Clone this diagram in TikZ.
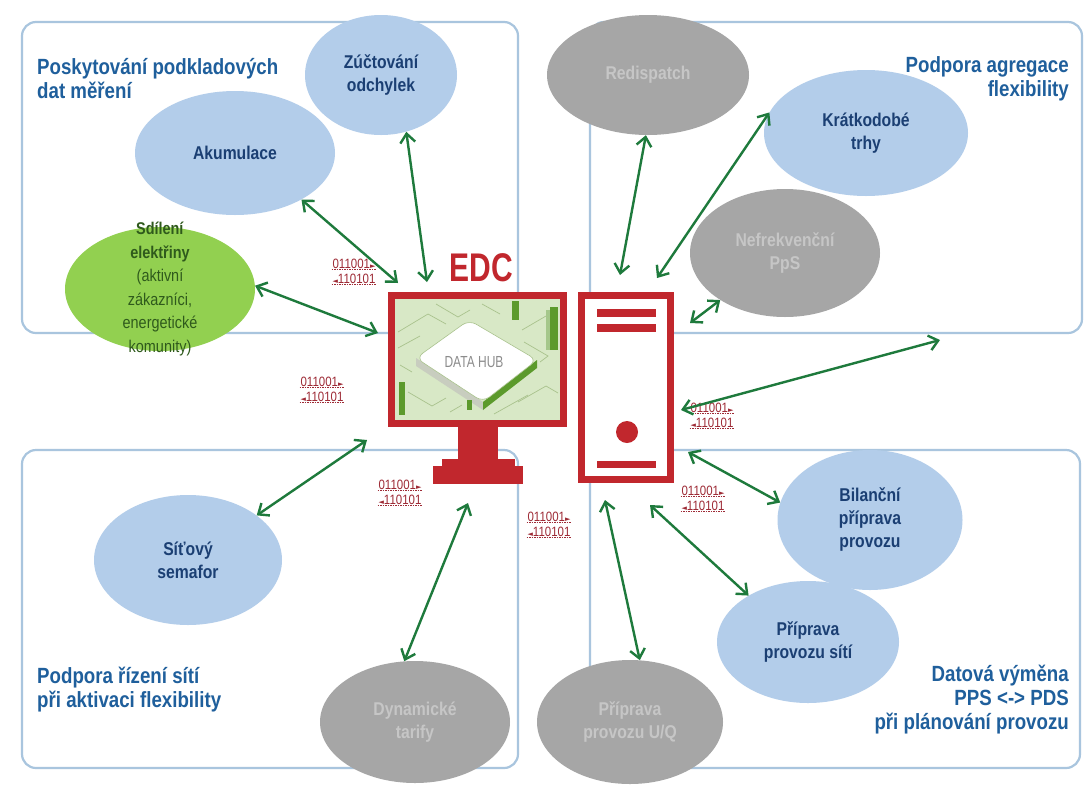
\documentclass[tikz,border=0pt]{standalone}
\usepackage{fontspec}
\setmainfont{Liberation Sans}
\newfontfamily\narrowfont[FakeStretch=0.85]{Liberation Sans}
\newfontfamily\condfont[FakeStretch=0.75]{Liberation Sans}
\newfontfamily\symfont{DejaVu Sans}
\usetikzlibrary{shapes.geometric,arrows.meta,calc}

\definecolor{boxline}{HTML}{A9C5DE}
\definecolor{titleblue}{HTML}{1F5F9C}
\definecolor{ellblue}{HTML}{B3CDEA}
\definecolor{ellbluetext}{HTML}{1B3F73}
\definecolor{ellgrey}{HTML}{A6A6A6}
\definecolor{greytext}{HTML}{C6C6C6}
\definecolor{ellgreen}{HTML}{92D050}
\definecolor{greentext}{HTML}{2F5A1C}
\definecolor{edcred}{HTML}{C1272D}
\definecolor{arrowgreen}{HTML}{1E7A3C}
\definecolor{bintext}{HTML}{9E2B36}
\definecolor{screenbg}{HTML}{D8E8C6}
\definecolor{screenline}{HTML}{A9C28D}
\definecolor{chipgreen}{HTML}{5C9A2C}
\definecolor{hubtext}{HTML}{8C8C8C}
\definecolor{plateside}{HTML}{C8CDBF}

\tikzset{
  area/.style={draw=boxline, line width=2.2pt, rounded corners=14pt},
  areatitle/.style={text=titleblue, inner sep=0pt,
    font=\narrowfont\bfseries\fontsize{22}{24}\selectfont},
  topic/.style={ellipse, inner sep=0pt, draw=none},
  bluetopic/.style={topic, fill=ellblue},
  greytopic/.style={topic, fill=ellgrey},
  greentopic/.style={topic, fill=ellgreen},
  lbl/.style={align=center, inner sep=0pt,
    font=\narrowfont\bfseries\fontsize{18.5}{23}\selectfont},
  bluelbl/.style={lbl, text=ellbluetext},
  greylbl/.style={lbl, text=greytext},
  greenlbl/.style={align=center, inner sep=0pt, text=greentext,
    font=\narrowfont\fontsize{17}{23.5}\selectfont},
  biarrow/.style={draw=arrowgreen, line width=2.4pt,
    {Straight Barb[length=9pt,width=15pt]}-{Straight Barb[length=9pt,width=15pt]}},
  bintxt/.style={text=bintext, inner sep=0.7pt,
    font=\narrowfont\fontsize{13.5}{13.5}\selectfont},
  bindash/.style={draw=bintext, line width=0.9pt, dash pattern=on 1.4pt off 1.1pt},
  binpic/.pic={
    \node[bintxt] (-top) at (0,-7.5) {011001{\symfont\fontsize{7}{7}\selectfont ►}};
    \node[bintxt] (-bot) at (0,7.5) {{\symfont\fontsize{7}{7}\selectfont ◄}110101};
    \draw[bindash] (-top.south west) -- (-top.south east);
    \draw[bindash] (-bot.south west) -- (-bot.south east);
  },
  screenstroke/.style={draw=screenline, line width=0.7pt},
}

\begin{document}
\begin{tikzpicture}[x=1pt, y=-1pt]
\useasboundingbox (0,0) rectangle (1089,785);
\fill[white] (0,0) rectangle (1089,785);

% the four application areas
\draw[area] (22,22) rectangle (518,333);
\draw[area] (590,22) rectangle (1082,333);
\draw[area] (22,450) rectangle (518,768);
\draw[area] (590,450) rectangle (1080,768);

\node[areatitle, anchor=west, align=left] (t1) at (37,79)
  {Poskytování podkladových\\dat měření};
\node[areatitle, anchor=east, align=right] (t2) at (1069,79)
  {Podpora agregace\\flexibility};
\node[areatitle, anchor=west, align=left] (t3) at (37,690)
  {Podpora řízení sítí\\při aktivaci flexibility};
\node[areatitle, anchor=east, align=right] (t4) at (1069,700)
  {Datová výměna\\PPS <-> PDS\\při plánování provozu};

% topics
\node[bluetopic, minimum width=152pt, minimum height=120pt,
  label={[bluelbl]center:Zúčtování\\odchylek}] (zuct) at (381,75) {};
\node[bluetopic, minimum width=200pt, minimum height=124pt,
  label={[bluelbl]center:Akumulace}] (akum) at (235,153) {};
\node[greentopic, minimum width=190pt, minimum height=124pt,
  label={[greenlbl]center:{\textbf{Sdílení}\\\textbf{elektřiny}\\(aktivní\\zákazníci,\\energetické\\komunity)}}] (sdil) at (160,289) {};
\node[greytopic, minimum width=202pt, minimum height=120pt,
  label={[greylbl]center:Redispatch}] (redis) at (648,75) {};
\node[bluetopic, minimum width=204pt, minimum height=126pt,
  label={[bluelbl]center:Krátkodobé\\trhy}] (kratk) at (866,133) {};
\node[greytopic, minimum width=190pt, minimum height=128pt,
  label={[greylbl]center:Nefrekvenční\\PpS}] (nefr) at (785,253) {};
\node[bluetopic, minimum width=185pt, minimum height=140pt,
  label={[bluelbl]center:Bilanční\\příprava\\provozu}] (bilan) at (870,520) {};
\node[bluetopic, minimum width=182pt, minimum height=122pt,
  label={[bluelbl]center:Příprava\\provozu sítí}] (sitpr) at (808,642) {};
\node[greytopic, minimum width=186pt, minimum height=124pt,
  label={[greylbl]center:Příprava\\provozu U/Q}] (uq) at (630,722) {};
\node[greytopic, minimum width=190pt, minimum height=122pt,
  label={[greylbl]center:Dynamické\\tarify}] (dyn) at (415,722) {};
\node[bluetopic, minimum width=188pt, minimum height=130pt,
  label={[bluelbl]center:Síťový\\semafor}] (semaf) at (188,560) {};

% monitor screen with the data hub illustration
\begin{scope}
  \clip (395,299) rectangle (560,420);
  \fill[screenbg] (395,299) rectangle (560,420);
  \draw[screenstroke] (398,332) -- (428,314) -- (446,324);
  \draw[screenstroke] (398,348) -- (420,336);
  \draw[screenstroke] (436,304) -- (458,317) -- (470,310);
  \draw[screenstroke] (482,304) -- (500,314);
  \draw[screenstroke] (522,330) -- (546,316);
  \draw[screenstroke] (524,342) -- (548,356) -- (540,362);
  \draw[screenstroke] (518,402) -- (546,386) -- (558,393);
  \draw[screenstroke] (494,414) -- (528,395);
  \draw[screenstroke] (408,392) -- (432,406) -- (446,398);
  \draw[screenstroke] (412,372) -- (400,365);
  \draw[screenstroke] (450,412) -- (462,405);
  % plate
  \fill[plateside] (416,358) -- (483,402) -- (483,410) -- (416,366) -- cycle;
  \fill[chipgreen] (483,402) -- (537,360) -- (537,368) -- (483,410) -- cycle;
  \filldraw[fill=white, draw=screenline, line width=0.6pt, rounded corners=8pt]
    (416,358) -- (469,320) -- (537,360) -- (483,402) -- cycle;
  \node[text=hubtext, inner sep=0pt,
    font=\condfont\fontsize{16}{16}\selectfont] (hub) at (474,362) {DATA HUB};
  % components around the hub
  \fill[chipgreen] (550,307) rectangle (558,350);
  \fill[chipgreen!55!white] (546,310) rectangle (550,350);
  \fill[chipgreen] (512,301) rectangle (519,320);
  \fill[chipgreen] (399,382) rectangle (405,415);
  \fill[chipgreen] (467,400) rectangle (472,410);
\end{scope}

% monitor frame, neck and foot
\node[draw=edcred, line width=7pt, minimum width=172pt, minimum height=128pt,
  inner sep=0pt] (mon) at (477.5,359.5) {};
\fill[edcred] (458,427) rectangle (498,464);
\fill[edcred] (442,459) rectangle (515,468);
\fill[edcred] (433,466) rectangle (523,484);

\node[text=edcred, inner sep=0pt,
  font=\condfont\bfseries\fontsize{40}{40}\selectfont] (edc) at (481,268) {EDC};

% server tower
\node[draw=edcred, line width=7pt, fill=white, minimum width=89pt,
  minimum height=184pt, inner sep=0pt] (srv) at (626,387.5) {};
\fill[edcred] (597,309) rectangle (656,317);
\fill[edcred] (597,324) rectangle (656,332);
\fill[edcred] (627,432) circle (11);
\fill[edcred] (597,461) rectangle (656,468);

% data packets
\pic (b1) at (354,271) {binpic};
\pic (b2) at (322,389) {binpic};
\pic (b3) at (400,492) {binpic};
\pic (b4) at (549,524) {binpic};
\pic (b5) at (712,415) {binpic};
\pic (b6) at (703,498) {binpic};

% connector ends next to the EDC
\coordinate (m1) at (398,283);
\coordinate (m2) at (427,282);
\coordinate (m3) at (378,333);
\coordinate (s4) at (620,275);
\coordinate (s5) at (657,278);
\coordinate (s6) at (690,323);
\coordinate (s7) at (681,410);
\coordinate (flexarea) at (940,340);
\coordinate (s8) at (688,452);
\coordinate (s9) at (650,505);
\coordinate (s10) at (605,500);
\coordinate (m11) at (468,503);
\coordinate (m12) at (367,440);

\draw[biarrow] (akum.-35) -- (m1);
\draw[biarrow] (zuct.-66) -- (m2);
\draw[biarrow] (sdil.2) -- (m3);
\draw[biarrow] (redis.-92) -- (s4);
\draw[biarrow] (kratk.168) -- (s5);
\draw[biarrow] (nefr.-144) -- (s6);
\draw[biarrow] (s7) -- (flexarea);
\draw[biarrow] (bilan.169) -- (s8);
\draw[biarrow] (sitpr.142) -- (s9);
\draw[biarrow] (uq.81) -- (s10);
\draw[biarrow] (dyn.100) -- (m11);
\draw[biarrow] (semaf.33) -- (m12);
\end{tikzpicture}
\end{document}
